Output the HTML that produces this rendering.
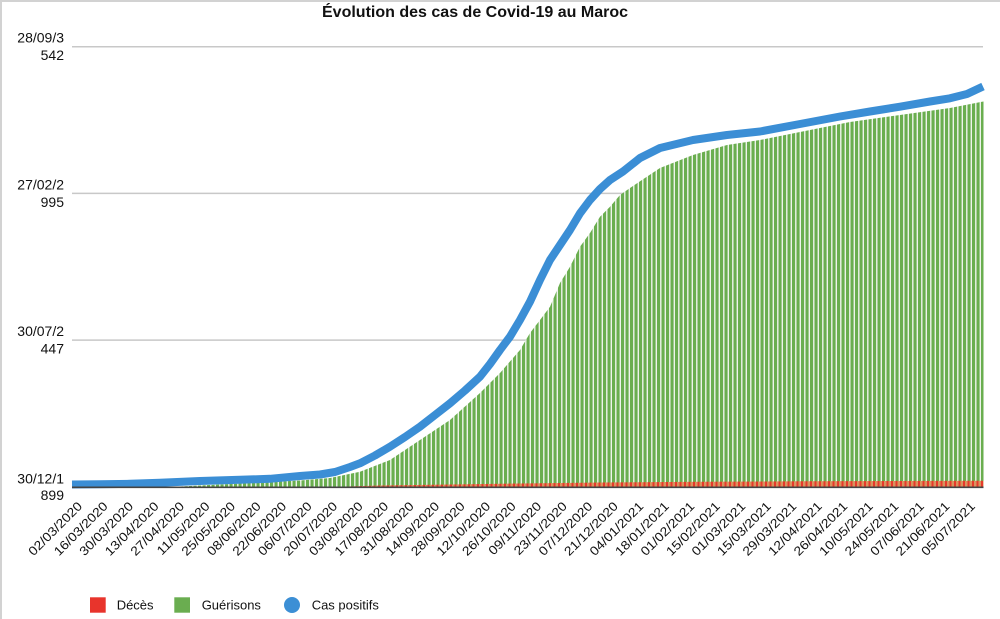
<!DOCTYPE html>
<html><head><meta charset="utf-8"><style>
html,body{margin:0;padding:0;background:#fff;}
body{width:1000px;height:619px;overflow:hidden;}
svg{display:block;font-family:"Liberation Sans",Arial,sans-serif;}
</style></head><body>
<svg width="1000" height="619" viewBox="0 0 1000 619" xmlns="http://www.w3.org/2000/svg">
<defs>
<pattern id="gp" patternUnits="userSpaceOnUse" x="72" y="0" width="4.5" height="10">
<rect x="0" y="0" width="4.5" height="10" fill="#eef3eb"/>
<rect x="0" y="0" width="3.1" height="10" fill="#6aae4f"/>
</pattern>
<pattern id="rp" patternUnits="userSpaceOnUse" x="72" y="0" width="4.5" height="10">
<rect x="0" y="0" width="4.5" height="10" fill="#d9935e"/>
<rect x="0" y="0" width="2" height="10" fill="#e6392b"/>
</pattern>
</defs>
<rect x="0" y="0" width="1000" height="619" fill="#fff"/>
<rect x="0" y="0" width="2" height="619" fill="#d2d2d2"/>
<rect x="0" y="0" width="1000" height="2" fill="#d2d2d2"/>

<text x="322" y="17" font-size="16" font-weight="bold" fill="#111" textLength="306" lengthAdjust="spacingAndGlyphs">Évolution des cas de Covid-19 au Maroc</text>

<g stroke="#c8c8c8" stroke-width="1.5">
<line x1="72" y1="46.7" x2="983" y2="46.7"/>
<line x1="72" y1="193.4" x2="983" y2="193.4"/>
<line x1="72" y1="340.1" x2="983" y2="340.1"/>
</g>

<g font-size="14" fill="#111" text-anchor="end">
<text x="64" y="42.7">28/09/3</text>
<text x="64" y="60">542</text>
<text x="64" y="189.5">27/02/2</text>
<text x="64" y="207">995</text>
<text x="64" y="336">30/07/2</text>
<text x="64" y="353.5">447</text>
<text x="64" y="483.3">30/12/1</text>
<text x="64" y="500">899</text>
</g>

<polygon fill="url(#gp)" points="170,487 200,485.5 250,483 300,480.5 330,478 360,471.7 390,460 420,440 450,420 480,393 500,373 520,350 530,333 540,320 550,306.7 560,283 570,266.7 580,246.7 590,233 600,216.7 610,206.7 620,195 630,188 660,168 693,155 727,145 760,140 800,132 850,122 900,115 950,108 982,101.7 983.5,101.5 983.5,487"/>

<polygon fill="url(#rp)" points="330,487 380,485.5 450,484.5 520,483.5 600,482.5 700,481.8 800,481.3 983.5,480.8 983.5,487"/>

<polyline fill="none" stroke="#3b8ed5" stroke-width="8" stroke-linejoin="round" points="72,484.5 100,484.3 130,483.8 160,482.8 200,481 240,479.8 270,478.8 300,476 320,474.5 335,472 350,467 360,463.3 375,455.5 390,446.7 405,437 420,426.7 435,415 450,403.3 465,390.5 480,376.7 490,364 500,350 510,336.7 520,320 530,301.7 540,280 550,260 560,245 570,230 580,213.3 590,200 600,189 610,180 623,171.5 640,158 660,148 693,140 727,135 760,131.5 800,124 840,116.5 870,111.5 900,106.7 930,101.5 950,98.3 967,94 983,86.5"/>

<line x1="72" y1="487.3" x2="983.5" y2="487.3" stroke="#444" stroke-width="1.6"/>

<g font-size="14" fill="#111" text-anchor="end">
<text transform="translate(83,507) rotate(-45) scale(1,0.9)">02/03/2020</text>
<text transform="translate(108.51,507) rotate(-45) scale(1,0.9)">16/03/2020</text>
<text transform="translate(134.02,507) rotate(-45) scale(1,0.9)">30/03/2020</text>
<text transform="translate(159.53,507) rotate(-45) scale(1,0.9)">13/04/2020</text>
<text transform="translate(185.04,507) rotate(-45) scale(1,0.9)">27/04/2020</text>
<text transform="translate(210.55,507) rotate(-45) scale(1,0.9)">11/05/2020</text>
<text transform="translate(236.06,507) rotate(-45) scale(1,0.9)">25/05/2020</text>
<text transform="translate(261.57,507) rotate(-45) scale(1,0.9)">08/06/2020</text>
<text transform="translate(287.08,507) rotate(-45) scale(1,0.9)">22/06/2020</text>
<text transform="translate(312.59,507) rotate(-45) scale(1,0.9)">06/07/2020</text>
<text transform="translate(338.1,507) rotate(-45) scale(1,0.9)">20/07/2020</text>
<text transform="translate(363.61,507) rotate(-45) scale(1,0.9)">03/08/2020</text>
<text transform="translate(389.12,507) rotate(-45) scale(1,0.9)">17/08/2020</text>
<text transform="translate(414.63,507) rotate(-45) scale(1,0.9)">31/08/2020</text>
<text transform="translate(440.14,507) rotate(-45) scale(1,0.9)">14/09/2020</text>
<text transform="translate(465.65,507) rotate(-45) scale(1,0.9)">28/09/2020</text>
<text transform="translate(491.16,507) rotate(-45) scale(1,0.9)">12/10/2020</text>
<text transform="translate(516.67,507) rotate(-45) scale(1,0.9)">26/10/2020</text>
<text transform="translate(542.18,507) rotate(-45) scale(1,0.9)">09/11/2020</text>
<text transform="translate(567.69,507) rotate(-45) scale(1,0.9)">23/11/2020</text>
<text transform="translate(593.2,507) rotate(-45) scale(1,0.9)">07/12/2020</text>
<text transform="translate(618.71,507) rotate(-45) scale(1,0.9)">21/12/2020</text>
<text transform="translate(644.22,507) rotate(-45) scale(1,0.9)">04/01/2021</text>
<text transform="translate(669.73,507) rotate(-45) scale(1,0.9)">18/01/2021</text>
<text transform="translate(695.24,507) rotate(-45) scale(1,0.9)">01/02/2021</text>
<text transform="translate(720.75,507) rotate(-45) scale(1,0.9)">15/02/2021</text>
<text transform="translate(746.26,507) rotate(-45) scale(1,0.9)">01/03/2021</text>
<text transform="translate(771.77,507) rotate(-45) scale(1,0.9)">15/03/2021</text>
<text transform="translate(797.28,507) rotate(-45) scale(1,0.9)">29/03/2021</text>
<text transform="translate(822.79,507) rotate(-45) scale(1,0.9)">12/04/2021</text>
<text transform="translate(848.3,507) rotate(-45) scale(1,0.9)">26/04/2021</text>
<text transform="translate(873.81,507) rotate(-45) scale(1,0.9)">10/05/2021</text>
<text transform="translate(899.32,507) rotate(-45) scale(1,0.9)">24/05/2021</text>
<text transform="translate(924.83,507) rotate(-45) scale(1,0.9)">07/06/2021</text>
<text transform="translate(950.34,507) rotate(-45) scale(1,0.9)">21/06/2021</text>
<text transform="translate(975.85,507) rotate(-45) scale(1,0.9)">05/07/2021</text>
</g>

<rect x="90" y="597.3" width="15.7" height="15.4" fill="#e8342c"/>
<text x="116.7" y="609.3" font-size="13" fill="#111">Décès</text>
<rect x="174.3" y="597.3" width="15.7" height="15.4" fill="#6aad50"/>
<text x="201.7" y="609.3" font-size="13" fill="#111">Guérisons</text>
<circle cx="292" cy="605" r="8" fill="#3c8fd5"/>
<text x="311.7" y="609.3" font-size="13" fill="#111">Cas positifs</text>
</svg>
</body></html>
